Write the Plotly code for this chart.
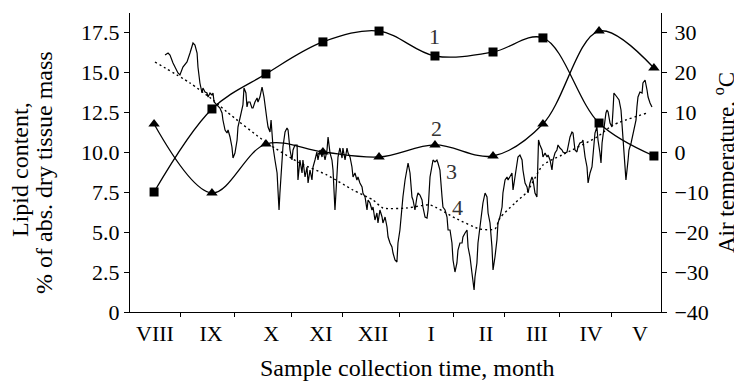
import plotly.graph_objects as go

# ---- data (x = day of the season, 0 = start of August) ----
sample_days = [13.6, 46.3, 76.8, 109.0, 140.7, 172.3, 205.1, 233.3, 265.0, 296.0]
lipid_1 = [7.5, 12.69, 14.88, 16.88, 17.56, 16.0, 16.25, 17.13, 11.81, 9.75]
lipid_2 = [11.75, 7.44, 10.5, 10.0, 9.69, 10.44, 9.75, 11.75, 17.56, 15.25]

temp_days = [19.8,21.5,22.6,24.3,27.1,28.2,29.9,32.2,33.9,35.6,36.7,37.9,38.4,39.5,40.7,41.2,42.4,43.5,44.1,45.2,
             46.3,46.9,47.5,49.2,50.8,52.0,52.5,53.7,54.8,55.4,56.5,57.6,58.2,59.3,60.5,61.0,62.1,63.3,63.8,64.4,
             65.5,66.1,66.7,67.8,68.9,69.5,70.6,71.8,72.3,73.4,74.6,75.7,76.3,77.4,78.0,79.1,79.7,80.2,80.8,81.9,
             83.1,83.6,84.2,
             84.7,85.9,86.4,87.6,88.7,89.3,90.4,91.5,92.1,93.2,94.4,94.9,96.0,97.2,97.7,98.9,100.0,100.6,101.7,102.8,
             103.4,104.5,105.6,106.2,107.3,108.5,109.0,110.2,111.3,111.9,113.0,114.1,114.7,115.8,116.9,117.5,118.6,119.8,120.3,121.5,
             122.6,123.2,124.3,125.4,126.0,127.1,128.2,128.8,129.9,131.1,131.6,132.8,133.9,134.5,135.6,136.7,137.3,138.4,139.5,140.1,
             141.2,142.4,142.9,144.1,145.2,145.8,146.9,148.0,148.6,149.7,150.8,151.4,152.5,
             153.7,154.2,155.4,156.5,157.1,158.2,159.3,159.9,161.0,162.1,162.7,163.8,165.0,165.5,166.7,167.8,168.4,169.5,170.6,171.2,
             172.3,173.4,174.0,175.1,176.3,176.8,178.0,179.1,179.7,180.8,181.9,182.5,183.6,184.7,185.3,186.4,187.6,188.1,189.3,190.4,
             191.0,192.1,193.2,193.8,194.4,194.9,196.0,196.6,197.7,198.9,199.4,200.6,201.7,202.3,203.4,204.5,205.1,206.2,207.3,207.9,
             209.0,210.2,210.7,211.9,213.0,213.6,214.7,215.8,216.4,217.5,218.6,219.2,
             220.3,221.5,222.0,223.2,224.3,224.9,226.0,227.1,227.7,228.8,229.9,230.5,230.8,231.6,232.8,233.3,234.5,235.6,236.2,237.3,
             238.4,239.0,240.1,241.2,241.8,242.9,244.1,244.6,245.8,246.9,247.5,248.6,249.7,250.3,251.4,252.5,253.1,254.2,255.4,255.9,
             257.1,258.2,258.8,259.9,261.0,261.6,262.7,263.8,264.4,265.5,266.1,266.7,267.8,268.9,269.5,270.1,271.2,272.3,272.9,273.4,
             275.1,276.3,277.4,278.0,279.1,279.7,280.2,281.4,281.9,283.1,284.2,285.9,286.4,287.0,288.1,289.3,289.8,291.0,292.1,292.7,
             293.8,294.9]
temp_c = [24.25,24.75,24.25,22.25,19.75,19.25,21.25,22.5,24.75,27.25,26.75,24.75,21.25,17.25,14.75,16,15,14.75,13.75,14.75,
          14.25,14.75,12.5,11.75,11,9.75,8,5.5,4.75,5.5,3.75,1.25,-1.5,-0.25,3,6.25,8.75,11.25,11.75,16,
          14.75,11.25,12.5,12.5,11,11,12.5,13.5,12.5,13.75,16.25,13.75,11.25,8,6.25,5,8,4.75,1.25,-2,
          -5.25,-9.5,-14.5,
          -10.25,-2,1.25,5,6,5.5,0.5,-2,0.5,1.75,1.75,-7,-2,-5.25,-2,-6.25,-3.75,-7.75,-4.5,-7,
          -3.75,-2,0,-2,0.5,-1.25,0.5,-2,0.5,3.75,-0.25,-2,-4.5,-14.5,-7,-1.25,1,-1.5,1,-2,
          1,-0.25,-1.25,-3.75,-6.25,-5.25,-7,-6.25,-7.75,-8.75,-10.25,-11.25,-14.5,-12,-12.75,-14.5,-13.75,-17,-15.25,-17.75,
          -14.5,-16.25,-17.75,-16.25,-18.75,-21.25,-22.75,-23.75,-25.25,-27,-27.5,-22.75,-19.5,
          -12.75,-11.25,-7,-3.75,-2.75,-5.25,-11.25,-12,-14.5,-11.25,-10.25,-10.75,-12,-13.75,-16.25,-16.5,-14.5,-6.25,-2.75,-2,
          -2.5,-2,-2.75,-4.5,-11.25,-13.75,-14.5,-16.25,-19.5,-19.5,-22.75,-27,-30,-27.75,-24.5,-22.75,-22.75,-21.25,-20.25,-19.5,
          -23.75,-26.25,-30.25,-32.75,-34.5,-31.25,-27.75,-22.75,-18.75,-15.25,-12.75,-10.25,-11.25,-15.25,-17.75,-23.75,-29.5,-26.25,-22,-17.75,
          -16.25,-13.75,-10.25,-7,-6.25,-7,-6.25,-5.25,-9.5,-6.25,-2.75,-1.25,
          -0.75,-2,-4.5,-7.75,-8.75,-10.25,-7.75,-6.25,-7,-10.25,-11.25,-2,3,1.75,0.5,-1.25,-0.25,-1.25,-0.75,-2,
          -4.5,-2,-0.25,0.5,1.75,1,0.5,0,-0.25,0,1.25,3.75,5,4.75,0.5,0,1.25,2.25,2.5,3,
          -1.25,-3.75,-7.75,-5.25,-3.75,-0.25,4.75,6.25,3,-0.25,-2.75,2.25,6.25,9.75,10.5,10,7.25,6.25,10.5,14.75,
          13.75,13,10.5,6.25,-0.25,-4.5,-7,-2,0.5,2.25,4.75,8,11.25,13.75,15,14.75,17.25,18,15.5,13.75,
          12.25,11.25]

trend_days = [14.1, 33.9, 46.9, 54.8, 77.4, 96.0, 111.3, 126.0, 137.3, 142.9, 156.5, 169.5,
              183.6, 197.7, 206.2, 209.0, 217.5, 224.3, 233.3, 244.1, 263.8, 272.9, 292.1]
trend_temp = [22.5, 17.25, 13, 10, 2.25, -2.75, -5.75, -9.5, -12, -14, -14, -13.25,
              -16.5, -19.25, -19.25, -16.5, -12.75, -10, -3.25, -0.75, 3.75, 6.75, 9.75]

month_bounds = [28.8, 59.3, 91.5, 119.8, 152.0, 182.5, 211.3, 242.4, 271.8]
month_label_pos = [14.1, 45.8, 79.7, 107.9, 137.3, 170.1, 201.1, 229.9, 260.5, 288.1]
month_labels = ["VIII", "IX", "X", "XI", "XII", "I", "II", "III", "IV", "V"]

left_ticks = [0, 2.5, 5.0, 7.5, 10.0, 12.5, 15.0, 17.5]
left_tick_text = ["0", "2.5", "5.0", "7.5", "10.0", "12.5", "15.0", "17.5"]
right_ticks = [-40, -30, -20, -10, 0, 10, 20, 30]

curve_labels = ["1", "2", "3", "4"]
curve_label_x = [172.3, 172.9, 181.4, 185.3]
curve_label_y = [17.19, 11.5, 8.81, 6.56]

FONT = "Liberation Serif, Times New Roman, serif"
FS = 22
TFS = 24

fig = go.Figure()
fig.add_trace(go.Scatter(x=temp_days, y=temp_c, mode="lines", xaxis="x", yaxis="y2",
                         line=dict(color="black", width=1.2), showlegend=False))
fig.add_trace(go.Scatter(x=trend_days, y=trend_temp, mode="lines", xaxis="x2", yaxis="y2",
                         line=dict(color="black", width=1.4, dash="2px,3px", shape="spline", smoothing=0.6),
                         showlegend=False))
fig.add_trace(go.Scatter(x=sample_days, y=lipid_1, mode="lines+markers",
                         line=dict(color="black", width=1.3, shape="spline", smoothing=1),
                         marker=dict(symbol="square", size=9, color="black"), showlegend=False))
fig.add_trace(go.Scatter(x=sample_days, y=lipid_2, mode="lines+markers",
                         line=dict(color="black", width=1.3, shape="spline", smoothing=1),
                         marker=dict(symbol="triangle-up", size=10, color="black"), showlegend=False))

for t, x, y in zip(curve_labels, curve_label_x, curve_label_y):
    fig.add_annotation(x=x, y=y, xref="x", yref="y", text=t, showarrow=False,
                       font=dict(family=FONT, size=FS, color="#333"))

title_font = dict(family=FONT, size=TFS, color="black")
fig.add_annotation(x=0, y=0.475, xref="paper", yref="paper", xshift=-110, xanchor="center", yanchor="middle",
                   text="Lipid content,", textangle=-90, showarrow=False, font=title_font)
fig.add_annotation(x=0, y=0.465, xref="paper", yref="paper", xshift=-86, xanchor="center", yanchor="middle",
                   text="% of abs. dry tissue mass", textangle=-90, showarrow=False, font=title_font)
fig.add_annotation(x=1, y=0.498, xref="paper", yref="paper", xshift=63, xanchor="center", yanchor="middle",
                   text="Air temperature, <sup>o</sup>C", textangle=-90, showarrow=False,
                   font=dict(family=FONT, size=23, color="black"))
fig.add_annotation(x=0.5235, y=0, xref="paper", yref="paper", yshift=-56, xanchor="center", yanchor="middle",
                   text="Sample collection time, month", showarrow=False, font=title_font)

axis_common = dict(showgrid=False, zeroline=False, linecolor="black", linewidth=1,
                   tickcolor="black", tickfont=dict(family=FONT, size=FS, color="black"))

fig.update_layout(
    width=734, height=374,
    margin=dict(l=122, r=81, t=5, b=70),
    paper_bgcolor="white", plot_bgcolor="white",
    xaxis=dict(range=[0, 300], tickvals=month_bounds, ticks="outside", ticklen=4,
               showticklabels=False, showline=True, **axis_common),
    xaxis2=dict(range=[0, 300], overlaying="x", anchor="y", side="bottom",
                tickvals=month_label_pos, ticktext=month_labels, ticks="", showline=False,
                ticklabelstandoff=6, **axis_common),
    yaxis=dict(range=[0, 18.6875], tickvals=left_ticks, ticktext=left_tick_text,
               ticks="outside", ticklen=5, showline=True, **axis_common),
    yaxis2=dict(range=[-40, 34.75], tickvals=right_ticks, overlaying="y", side="right", anchor="x",
                ticks="outside", ticklen=5, showline=True, ticklabelstandoff=3, **axis_common),
)

fig.write_html("out.html")
